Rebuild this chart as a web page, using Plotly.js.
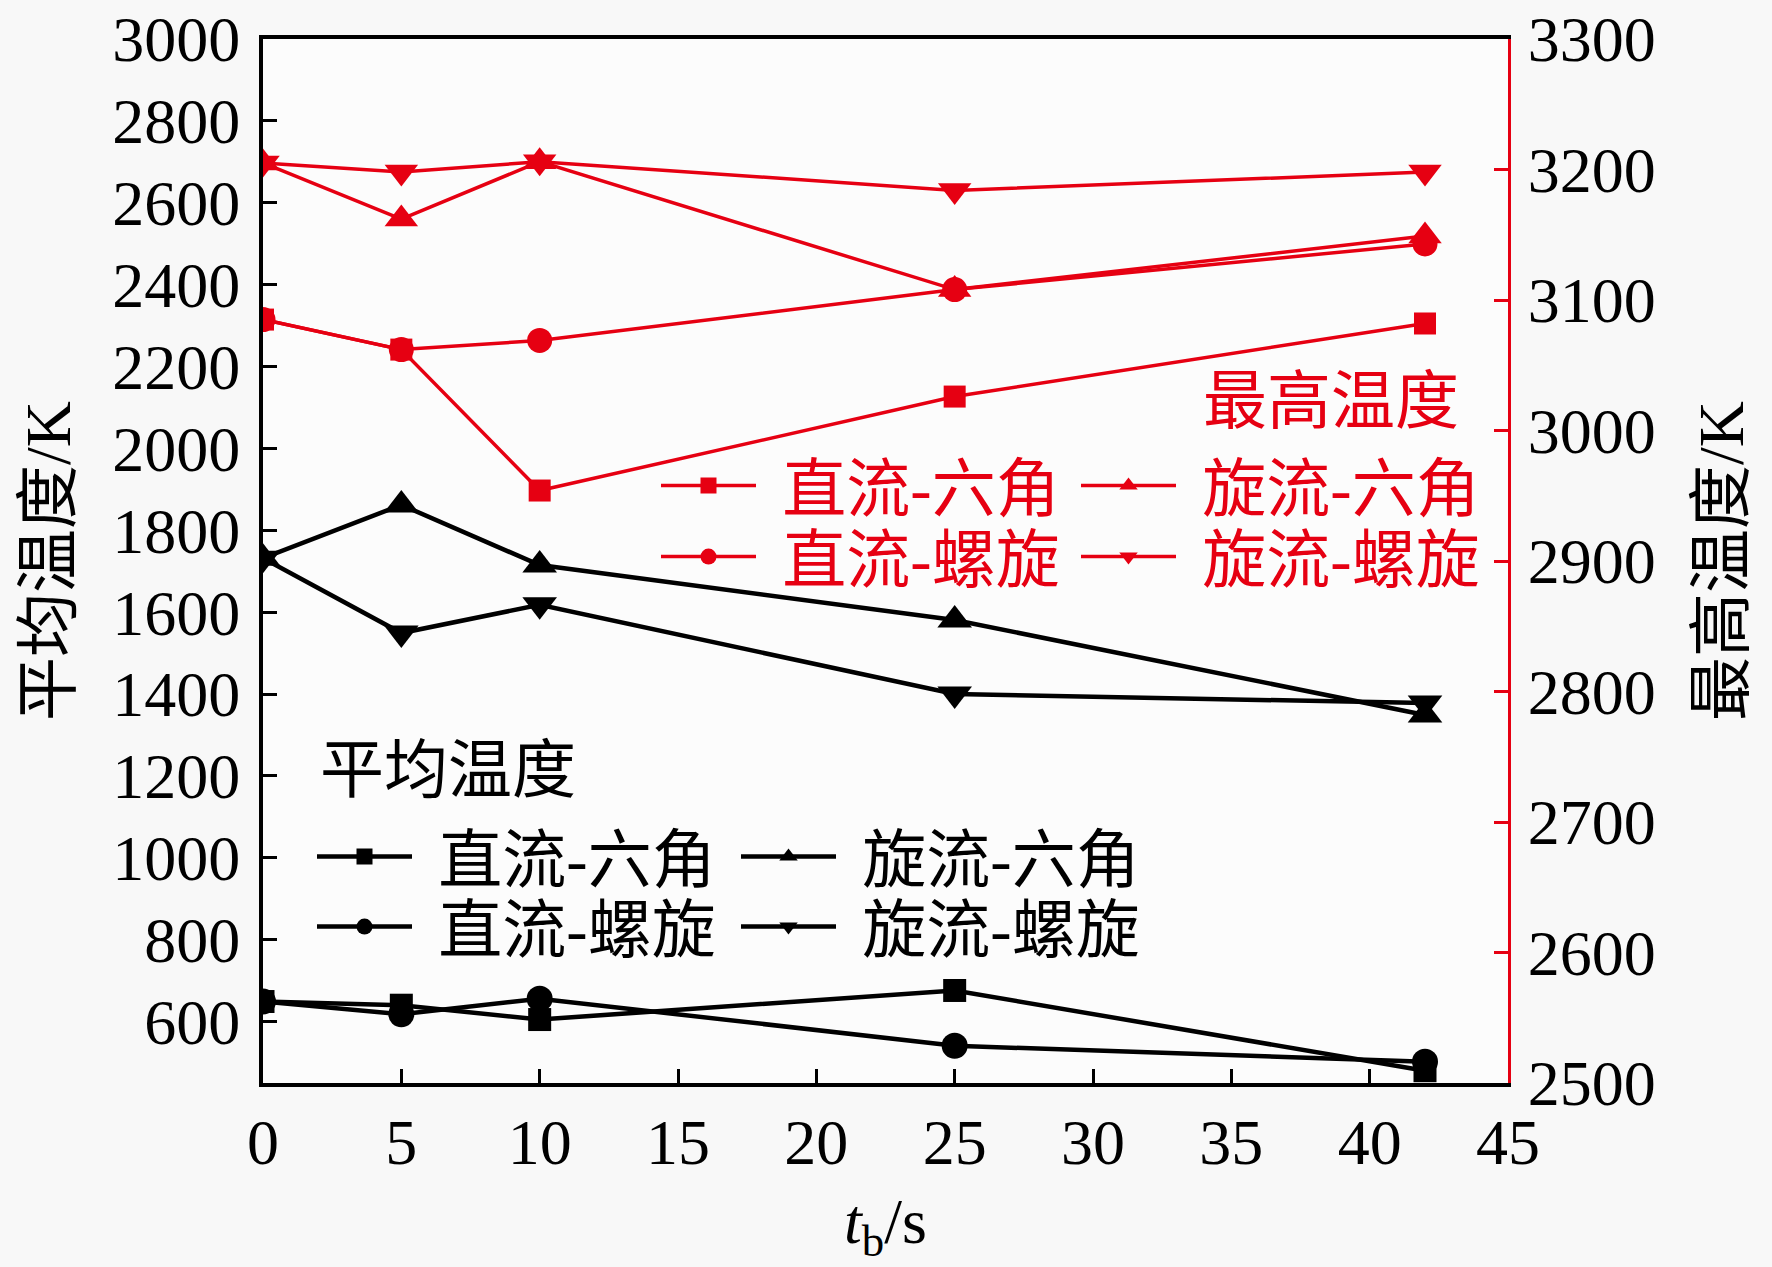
<!DOCTYPE html>
<html>
<head>
<meta charset="utf-8">
<script src="https://cdn.plot.ly/plotly-3.0.1.min.js"></script>
<style>
  html, body { margin: 0; padding: 0; background: #f8f8f8; }
  #chart { width: 1772px; height: 1267px; }
</style>
</head>
<body>
<div id="chart"></div>
<script>
const times = [0, 5, 10, 25, 42];
const seriesNames = ["直流-六角", "旋流-六角", "直流-螺旋", "旋流-螺旋"];
const symbols = ["square", "triangle-up", "circle", "triangle-down"];

// average temperature (left axis)
const avgStraightHex = [649, 640, 605, 676, 480];
const avgSwirlHex = [1732, 1862, 1715, 1581, 1349];
const avgStraightSpiral = [649, 618, 656, 541, 502];
const avgSwirlSpiral = [1732, 1549, 1618, 1400, 1378];

// max temperature (right axis)
const maxStraightHex = [3085, 3062, 2954, 3026, 3082];
const maxSwirlHex = [3205, 3162, 3206, 3108, 3149];
const maxStraightSpiral = [3085, 3062, 3069, 3108, 3143];
const maxSwirlSpiral = [3205, 3198, 3206, 3184, 3198];

const avgTitle = "平均温度";
const maxTitle = "最高温度";

const RED = "#e60012";
const FONT = "'Liberation Serif', 'Times New Roman', 'Noto Sans CJK SC', serif";

const avgSeries = [avgStraightHex, avgSwirlHex, avgStraightSpiral, avgSwirlSpiral];
const maxSeries = [maxStraightHex, maxSwirlHex, maxStraightSpiral, maxSwirlSpiral];
const markerSizes = [23, 30, 26, 30];

const traces = [];
avgSeries.forEach((ys, i) => {
  traces.push({
    x: times, y: ys, name: "\u2004" + seriesNames[i], yaxis: "y",
    type: "scatter", mode: "lines+markers",
    line: { color: "black", width: 4.5 },
    marker: { symbol: symbols[i], size: markerSizes[i], color: "black" },
    legend: i === 0 ? "legend" : "legend" + (i + 1)
  });
});
maxSeries.forEach((ys, i) => {
  traces.push({
    x: times, y: ys, name: "\u2004" + seriesNames[i], yaxis: "y2",
    type: "scatter", mode: "lines+markers",
    line: { color: RED, width: 3.5 },
    marker: { symbol: symbols[i], size: markerSizes[i] - 1, color: RED },
    legend: "legend" + (i + 5)
  });
});

// legend boxes: two columns x two rows per group
function legendBox(x, y, color) {
  return {
    x: x, y: y, xanchor: "left", yanchor: "middle",
    bgcolor: "rgba(0,0,0,0)", borderwidth: 0,
    itemwidth: 95,
    font: { family: FONT, size: 64, color: color }
  };
}
const px = v => (v - 263) / 1245;
const py = v => (1083 - v) / 1044;

const layout = {
  width: 1772, height: 1267,
  margin: { l: 263, r: 264, t: 39, b: 184 },
  paper_bgcolor: "#f8f8f8",
  plot_bgcolor: "#fcfcfc",
  font: { family: FONT, size: 64, color: "black" },
  showlegend: true,
  xaxis: {
    range: [0, 45], tick0: 0, dtick: 5,
    ticks: "inside", ticklen: 14, tickwidth: 3, tickcolor: "black",
    showline: true, linewidth: 4, linecolor: "black", mirror: true,
    showgrid: false, zeroline: false,
    tickfont: { size: 64 },
    title: { text: "<i>t</i><sub>b</sub>/s", font: { size: 64 }, standoff: 22 }
  },
  yaxis: {
    range: [450, 3000], tick0: 600, dtick: 200,
    ticks: "inside", ticklen: 14, tickwidth: 3, tickcolor: "black",
    showline: true, linewidth: 4, linecolor: "black",
    showgrid: false, zeroline: false,
    ticklabelstandoff: 6,
    tickfont: { size: 64 },
    title: { text: "平均温度/K", font: { size: 64 }, standoff: 22 }
  },
  yaxis2: {
    overlaying: "y", side: "right",
    range: [2500, 3300], tick0: 2500, dtick: 100,
    ticks: "inside", ticklen: 14, tickwidth: 3, tickcolor: RED,
    showline: true, linewidth: 3, linecolor: RED,
    showgrid: false, zeroline: false,
    ticklabelstandoff: 4,
    tickfont: { size: 64, color: "black" },
    title: { text: "最高温度/K", font: { size: 64 }, standoff: 44 }
  },
  legend: legendBox(px(312), py(857), "black"),
  legend2: legendBox(px(736), py(857), "black"),
  legend3: legendBox(px(312), py(927), "black"),
  legend4: legendBox(px(736), py(927), "black"),
  legend5: legendBox(px(656), py(486), RED),
  legend6: legendBox(px(1076), py(486), RED),
  legend7: legendBox(px(656), py(557), RED),
  legend8: legendBox(px(1076), py(557), RED),
  annotations: [
    { text: avgTitle, xref: "paper", yref: "paper", x: px(318), y: py(770),
      xanchor: "left", yanchor: "middle", showarrow: false,
      font: { family: FONT, size: 64, color: "black" } },
    { text: maxTitle, xref: "paper", yref: "paper", x: px(1201), y: py(401),
      xanchor: "left", yanchor: "middle", showarrow: false,
      font: { family: FONT, size: 64, color: RED } }
  ]
};

Plotly.newPlot("chart", traces, layout, { staticPlot: true });
</script>
</body>
</html>
